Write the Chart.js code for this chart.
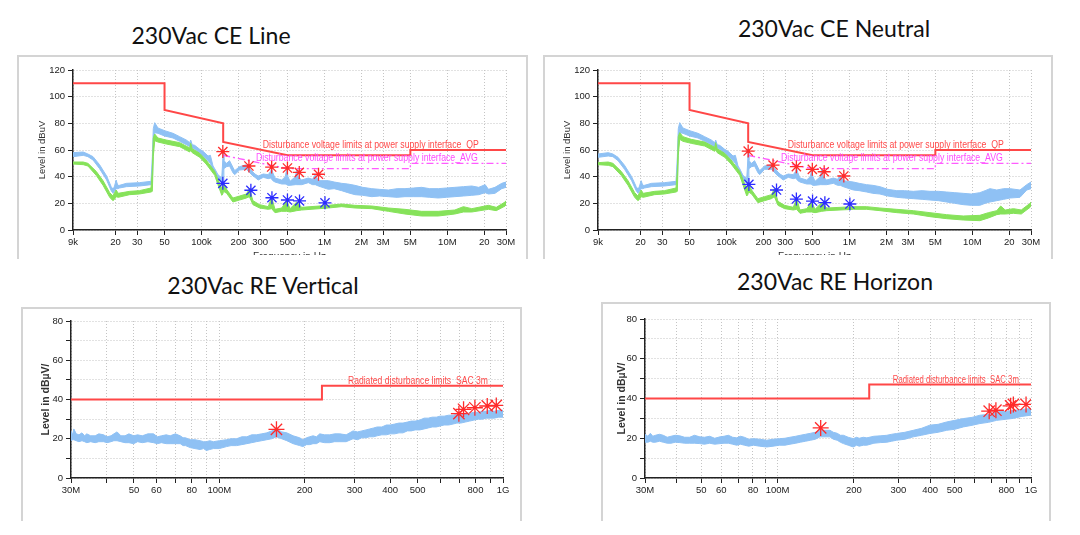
<!DOCTYPE html>
<html><head><meta charset="utf-8">
<script src="https://cdn.jsdelivr.net/npm/chart.js@4.4.1/dist/chart.umd.min.js"></script>
<style>
html,body{margin:0;padding:0;background:#fff;}
body{width:1080px;height:535px;overflow:hidden;position:relative;}
.frame{position:absolute;border:2px solid #d4d4d4;border-bottom:none;box-sizing:border-box;}
.title{position:absolute;font-family:Lato,'Open Sans',sans-serif;color:#111;white-space:nowrap;transform:translate(-50%,-50%);line-height:1;}
canvas{position:absolute;}
</style></head><body>
<div class="frame" style="left:17px;top:55px;width:511px;height:204px"></div>
<div class="frame" style="left:543px;top:55px;width:510px;height:204px"></div>
<div class="frame" style="left:21px;top:307px;width:501px;height:214px"></div>
<div class="frame" style="left:601px;top:302px;width:450px;height:219px"></div>
<div class="title" style="left:211px;top:35px;font-size:23px">230Vac CE Line</div>
<div class="title" style="left:834px;top:28px;font-size:23px">230Vac CE Neutral</div>
<div class="title" style="left:263px;top:285px;font-size:23px">230Vac RE Vertical</div>
<div class="title" style="left:835px;top:281px;font-size:23px">230Vac RE Horizon</div>
<canvas id="c1" width="510" height="200" style="left:17px;top:55px"></canvas>
<canvas id="c2" width="510" height="200" style="left:543px;top:55px"></canvas>
<canvas id="c3" width="499" height="213" style="left:22px;top:307px"></canvas>
<canvas id="c4" width="449" height="218" style="left:601px;top:302px"></canvas>
<script>
// ---------- axis ticks ----------
const ceTickValuesHz = [9e3, 2e4, 3e4, 5e4, 1e5, 2e5, 3e5, 5e5, 1e6, 2e6, 3e6, 5e6, 1e7, 2e7, 3e7];
const ceTickLabels = ['9k', '20', '30', '50', '100k', '200', '300', '500', '1M', '2M', '3M', '5M', '10M', '20', '30M'];
const reTickValuesHz = [3e7, 4e7, 5e7, 6e7, 7e7, 8e7, 9e7, 1e8, 2e8, 3e8, 4e8, 5e8, 6e8, 7e8, 8e8, 9e8, 1e9];
const reTickLabels = ['30M', '', '50', '60', '', '80', '', '100M', '200', '300', '400', '500', '', '', '800', '', '1G'];

// ---------- limit lines ----------
const ceQpLimitFreqKHz = [9, 50, 50, 150, 150, 500, 5000, 5000, 30000];
const ceQpLimitLevel = [110, 110, 90, 80, 66, 56, 56, 60, 60];
const ceAvgLimitFreqKHz = [150, 500, 5000, 5000, 30000];
const ceAvgLimitLevel = [56, 46, 46, 50, 50];
const reLimitFreqMHz = [30, 230, 230, 1000];
const reLimitLevel = [40, 40, 47, 47];

// ---------- CE Line ----------
const lineBlueFreqKHz = [9, 10.9, 11.9, 13.1, 14.8, 16.9, 18.4, 19.1, 19.6, 20.2, 20.8, 21.5, 24.5, 31.2, 38.8, 39.8, 40.5, 41.6, 44.2, 50.1, 58.6, 66.4, 75.2, 80.2, 81.6, 84, 88, 96.7, 103, 113, 118, 124, 128, 136, 146, 148, 150, 152, 160, 169, 180, 186, 204, 232, 262, 272, 289, 318, 349, 365, 372, 380, 396, 449, 480, 493, 505, 525, 580, 595, 610, 653, 740, 800, 842, 891,
  1076, 1200, 1380, 1550, 1770, 2050, 2430, 2800, 3310, 3900, 4520, 5300, 6170, 7200, 8430, 9800, 11500, 13500, 15800, 18000, 20300, 21600, 24400, 27700, 30000];
const lineBlueHigh = [58, 58.5, 57, 55, 49, 40.5, 32.5, 30.5, 33, 37.5, 33.5, 33.5, 35, 35.5, 36.5, 55, 76, 80.5, 76.5, 74.5, 72.5, 70, 67.5, 65.5, 67.5, 64, 63.5, 60.5, 59, 55.5, 56, 48, 46, 41.5, 39, 48, 59, 52, 50, 52, 47, 44.5, 47.5, 49, 43.5, 42, 40.5, 42, 41.5, 44, 46.5, 43, 39, 37.5, 40, 45.5, 40, 36.5, 40, 45.5, 40, 37.5, 39, 38, 41.5, 37,
  37, 36, 35, 34.5, 33.5, 32, 31, 30.5, 30, 31, 31, 31.5, 32, 31, 31, 31.5, 32, 32.5, 33, 32, 34, 30.5, 32, 35, 36];
const lineBlueLow = [55, 56, 55, 52.5, 46, 37.5, 29.5, 27.5, 29, 31, 31, 31.5, 32.5, 33, 34, 36, 60, 73, 72.5, 70.5, 69, 66.5, 64, 62.5, 63, 61.5, 60.5, 57.5, 55.5, 52, 50, 44, 42.5, 38.5, 36, 36, 36, 46, 47.5, 48, 43, 41.5, 45, 45.5, 40.5, 39.5, 37.5, 39.5, 38.5, 39, 38, 37, 36, 34.5, 34.5, 34, 33.5, 33.5, 34, 34, 34, 34, 35.5, 34, 34, 33,
  30.5, 31, 29.5, 28, 26.5, 26, 25, 25.5, 25, 24.5, 25, 25, 25, 24.5, 24, 24.5, 25, 25.5, 26, 26.5, 28, 27, 27.5, 31, 32];
const lineGreenFreqKHz = [9, 10.9, 11.9, 13.9, 15.8, 17.9, 19.0, 19.6, 20.2, 21.0, 26.0, 31.2, 38.8, 39.8, 40.5, 41.6, 44.2, 51.6, 66.4, 80.2, 81.6, 84, 96.7, 109, 128, 136, 146, 149, 151, 160, 180, 204, 232, 245, 262, 297, 349, 372, 396, 449, 493, 525, 595, 653, 1076, 1380, 1770, 2430, 3310, 4520, 6170, 8430, 11500, 13500, 15800, 21600, 25000, 29500, 30000];
const lineGreenHigh = [51, 51, 50, 44, 37, 28, 25.5, 28, 30, 27.5, 29, 29.5, 31.5, 45, 69, 72, 69, 67.5, 65.5, 61.5, 65, 61, 57.5, 52.5, 44, 38, 31, 35, 35, 30.5, 24, 25.5, 27, 31, 22, 19, 17.5, 24.5, 15.5, 16.5, 22, 16, 21, 17, 18.5, 19.5, 18.5, 18, 16.5, 15.5, 14, 14, 15, 17.5, 16, 18.5, 17, 21, 22];
const lineGreenLow = [49.5, 49, 48, 41, 33.5, 24.5, 22, 23, 25, 24.5, 26.5, 27, 28.5, 29, 55, 67, 66, 64.5, 62.5, 58.5, 60, 58, 54.5, 49.5, 41, 34, 26, 27, 29, 27.5, 21, 22.5, 24, 25, 19, 16.5, 15.5, 16, 13, 14, 14, 13.5, 14.5, 15, 16.5, 17.5, 16.5, 16, 14, 12, 10.5, 10.5, 12, 13.5, 13.5, 15.5, 14.5, 18, 19];
const lineQpPeakFreqKHz = [149, 243, 372, 500, 624, 895];
const lineQpPeakLevel = [58.8, 48, 47.2, 46.5, 43.2, 41.8];
const lineAvgPeakFreqKHz = [149, 252, 374, 500, 627, 1010];
const lineAvgPeakLevel = [35, 29.8, 24.2, 22.5, 21.8, 20.4];

// ---------- CE Neutral ----------
const neutralBlueFreqKHz = [9, 10.9, 11.9, 13.1, 14.8, 16.9, 18.4, 19.1, 19.6, 20.2, 20.8, 21.5, 24.5, 31.2, 38.8, 39.8, 40.5, 41.6, 44.2, 50.1, 58.6, 66.4, 75.2, 80.2, 81.6, 84, 88, 96.7, 103, 113, 118, 124, 128, 136, 146, 148, 150, 152, 160, 169, 180, 186, 204, 232, 262, 272, 289, 318, 349, 365, 372, 380, 396, 449, 480, 493, 505, 525, 580, 595, 610, 653, 740, 800, 842, 891,
  1076, 1200, 1380, 1550, 1770, 2050, 2430, 2800, 3310, 3900, 4520, 5300, 6170, 7200, 8430, 9800, 11500, 12700, 13900, 15800, 18000, 20300, 24400, 27700, 30000];
const neutralBlueHigh = [57, 58, 57, 54.5, 48.5, 40, 32.5, 30.5, 33, 37, 33.5, 33.5, 35, 35.5, 36.5, 55, 76, 80.5, 76.5, 74.5, 72.5, 70, 67.5, 65.5, 67.5, 64, 63.5, 60.5, 59, 55.5, 56, 48, 46, 41, 38.5, 48, 59.5, 52, 50, 52, 47, 44.5, 48, 49, 43.5, 42, 40.5, 42, 41.5, 44, 46.5, 43, 39, 37.5, 40, 45, 40, 36.5, 40, 45, 40, 37.5, 39, 38, 41, 37,
  36, 35, 34, 33.5, 32.5, 30.5, 29.5, 29.5, 29, 29.5, 29, 29, 28.5, 28, 27.5, 27, 28, 29.5, 31, 30, 31, 31, 30, 34, 36];
const neutralBlueLow = [54.5, 55.5, 55, 52, 45.5, 37, 29.5, 27.5, 29, 31, 31, 31.5, 32.5, 33, 34, 36, 60, 73, 72.5, 70.5, 69, 66.5, 64, 62.5, 63, 61.5, 60.5, 57.5, 55.5, 52, 50, 44, 42.5, 38, 35, 35, 35, 46, 47.5, 48, 43, 41.5, 45.5, 45.5, 40.5, 39.5, 37.5, 39.5, 38.5, 39, 38, 37, 36, 34.5, 34.5, 34, 33.5, 33.5, 34, 34, 34, 34, 35, 33.5, 33.5, 32.5,
  30, 29.5, 28.5, 27.5, 27, 25.5, 24.5, 24, 23.5, 23, 22.5, 22, 21, 20, 19, 18.5, 18.5, 20, 21, 22, 23, 24, 24.5, 30, 31];
const neutralGreenFreqKHz = [9, 10.9, 11.9, 13.9, 15.8, 17.9, 19.0, 19.6, 20.2, 21.0, 26.0, 31.2, 38.8, 39.8, 40.5, 41.6, 44.2, 51.6, 66.4, 80.2, 81.6, 84, 96.7, 109, 128, 136, 146, 149, 151, 160, 180, 204, 232, 245, 262, 297, 349, 372, 396, 449, 493, 525, 595, 653, 1076, 1380, 1770, 2430, 3310, 4520, 6170, 8430, 11500, 13500, 15800, 17000, 18500, 21600, 25000, 29500, 30000];
const neutralGreenHigh = [50.5, 51, 50, 44, 37, 28, 25.5, 28, 30, 27.5, 29, 29.5, 31.5, 45, 70, 73, 70, 68, 66, 62, 65.5, 61, 57.5, 52.5, 44, 38, 30.5, 34.5, 34.5, 30, 23.5, 25, 26.5, 31, 21.5, 18.5, 17, 23.5, 15, 16, 21, 15.5, 20.5, 16.5, 17.5, 17.5, 16.5, 15.5, 14.5, 13, 11.5, 10.5, 11, 13, 14.5, 18, 15, 16, 15, 20, 21];
const neutralGreenLow = [49, 48.5, 47.5, 41, 33.5, 24.5, 22, 23, 25, 24.5, 26.5, 27, 28.5, 29, 56, 68, 66.5, 65, 63, 59, 60.5, 58, 54.5, 49.5, 41, 34, 25.5, 26.5, 28.5, 27, 20.5, 22, 23.5, 25, 18.5, 16, 15, 15.5, 12.5, 13.5, 13.5, 13, 14, 14.5, 15.5, 15.5, 14.5, 13, 12, 10, 8.5, 7.5, 7, 9, 11.5, 12, 12, 12.5, 12, 17, 18];
const neutralQpPeakFreqKHz = [150, 239, 370, 499, 623, 900];
const neutralQpPeakLevel = [59.2, 48.7, 47.5, 45.5, 43.7, 40.5];
const neutralAvgPeakFreqKHz = [152, 255, 370, 501, 631, 1008];
const neutralAvgPeakLevel = [34.2, 30, 23.2, 21.7, 20.5, 19.5];

// ---------- RE Vertical ----------
const vertFreqMHz = [30, 30.4, 30.7, 31.3, 32, 32.8, 33.5, 34.1, 35.2, 36.5, 37.6, 39.1, 40.2, 41.5, 42.5, 43.6, 45, 46.5, 48, 49.9, 51.5, 53.5, 56, 58.6, 60.5, 62.5, 65, 67.1, 70, 72.8, 74.5, 76, 78.9, 82, 85.6, 88, 90, 92.5, 95.3, 100, 106, 110, 115, 120, 125, 130, 135, 141, 147, 153, 159, 166, 173, 182, 192, 197, 203, 208, 214, 220, 226, 235, 245, 255, 266, 280, 296, 307, 318, 329, 339, 350, 360, 374, 388, 400, 415, 430, 444, 460, 475, 490, 509, 527, 545, 563, 582, 600, 620, 643, 667, 688, 710, 736, 763, 790, 820, 845, 873, 900, 930, 965, 1000];
const vertHigh = [24, 22, 25, 22.5, 22, 23, 21.5, 22.5, 21.5, 21.5, 22.5, 22, 21, 21.5, 22.5, 23.5, 21.5, 21.5, 22.5, 21.5, 22, 21.5, 22.5, 22.5, 21, 21.5, 22, 21.5, 22.5, 21.5, 20.5, 20.5, 19.5, 19.5, 19, 18.5, 18.5, 19, 18.5, 19, 19.5, 20, 20, 21, 21, 22, 22, 22.5, 23, 24, 25, 23.5, 23, 21.5, 20.5, 19.5, 20.5, 21, 21.5, 21, 22.5, 22, 22, 22.5, 22.5, 22, 24, 23.5, 24, 24.5, 25, 25.5, 26, 26, 27, 27, 27.5, 28, 28, 28.5, 29, 29, 29.5, 30.5, 30.5, 31, 31, 31.5, 31.5, 32, 32, 32.5, 32.5, 33, 33, 33.5, 33.5, 34, 34, 34.5, 34, 34.5, 34.5];
const vertLow = [19, 19.5, 19.5, 19, 18.5, 19, 18.5, 18, 18.5, 18, 18.5, 18.5, 18, 18.5, 19, 19, 18.5, 18, 18, 17.5, 18.5, 18, 18.5, 18, 17.5, 18, 17.5, 17.5, 17.5, 17.5, 16.5, 16.5, 15.5, 15, 14.5, 15, 14, 14.5, 15, 15, 16, 16.5, 16.5, 17, 17.5, 18, 18.5, 19, 19.5, 20, 21, 20, 19, 17.5, 16.5, 16, 17, 17, 17.5, 17.5, 18.5, 18, 18, 18.5, 18.5, 18.5, 20, 19.5, 20.5, 20.5, 21, 21, 21.5, 22, 22, 22.5, 22.5, 23, 23, 24, 24, 24.5, 24.5, 25, 25.5, 26, 26, 26.5, 27, 27, 27.5, 28, 28, 28.5, 29, 29.5, 30, 30, 30.5, 30.5, 30.5, 31, 31];
const vertPeakFreqMHz = [159, 699, 726, 796, 880, 947];
const vertPeakLevel = [24.8, 32.8, 35, 35.8, 36.7, 37];

// ---------- RE Horizon ----------
const horFreqMHz = [30, 30.8, 31.5, 32.2, 33, 34.2, 35.4, 36.7, 38, 39.5, 41.2, 43, 45, 47, 49.4, 51.5, 54, 56.5, 59.3, 61.5, 64, 66.5, 69, 71.5, 74, 77, 80.3, 85, 90.6, 96, 102, 107, 112, 118, 123, 129, 135, 141, 147, 154, 161, 166, 172, 177, 182, 190, 199, 205, 210, 218, 225, 240, 254, 270, 282, 295, 318, 343, 370, 399, 430, 465, 500, 541, 585, 629, 680, 732, 790, 852, 920, 1000];
const horHigh = [22, 21, 22.5, 21, 21.5, 22, 21.5, 20.5, 21, 21.5, 21.2, 20.5, 20.5, 21.5, 20.7, 20.5, 21, 20, 20.7, 21, 21.5, 20.5, 20.2, 21, 20.5, 19.5, 19.8, 19.5, 19, 19.5, 19.8, 20, 20.5, 21, 21.5, 22, 22.5, 23, 24, 24, 24, 23, 22.5, 21.5, 21.5, 20.5, 19.8, 20.5, 20, 20.5, 20.2, 21, 21.2, 21.5, 22, 22.4, 23, 24, 25, 26.6, 27, 28.2, 29, 29.9, 30.5, 31.6, 32, 33.3, 33.5, 34, 34.5, 35];
const horLow = [18, 18, 18.5, 18, 18, 18.5, 18, 17.5, 17.5, 18, 17.8, 17.5, 17.5, 17.5, 17.3, 17, 17.5, 17, 17.3, 17.5, 17.5, 17, 16.5, 17, 16.5, 16, 16.5, 16, 15.6, 16, 16.5, 16.5, 17, 17.5, 18, 18.5, 19, 19.5, 20.7, 20.7, 20.7, 19.5, 19, 18, 17.3, 16.5, 15.6, 16.5, 16, 16.5, 16.5, 17.5, 17.8, 18, 18.5, 19, 19.5, 20.7, 21.5, 22.4, 23, 24, 24.5, 25.7, 26.5, 27.4, 28, 29, 29.5, 30, 31, 31.6];
const horPeakFreqMHz = [148, 684, 727, 831, 852, 956];
const horPeakLevel = [25.2, 33.6, 34.1, 36.3, 37, 37];

// ---------- styles ----------
const BLUE = '#8fc1f4', GREEN = '#86e25a', RED = '#ff4747', MAG = '#ff5cff';
const STAR_RED = '#ff2b2b', STAR_BLUE = '#2b2bff';

Chart.defaults.font.family = "'Liberation Sans', Arial, sans-serif";
Chart.defaults.animation = false;

function pts(fs, ys, mult) { return fs.map((f, i) => ({x: f * mult, y: ys[i]})); }

const notesPlugin = {
  id: 'notes',
  afterDatasetsDraw(chart, args, opts) {
    const ctx = chart.ctx, xs = chart.scales.x, ys = chart.scales.y;
    (opts.items || []).forEach(n => {
      ctx.save();
      ctx.font = n.font; ctx.fillStyle = n.color;
      ctx.textAlign = 'left'; ctx.textBaseline = 'middle';
      ctx.fillText(n.text, xs.getPixelForValue(n.x), ys.getPixelForValue(n.y), n.maxWidth);
      ctx.restore();
    });
    if (opts.xTitle) {
      ctx.save();
      ctx.font = '10px "Liberation Sans", Arial, sans-serif'; ctx.fillStyle = '#333';
      ctx.textAlign = 'center'; ctx.textBaseline = 'top';
      ctx.fillText(opts.xTitle, (chart.chartArea.left + chart.chartArea.right) / 2, chart.height - 2.5);
      ctx.restore();
    }
  }
};

function xScale(min, max, vals, labels, fs) {
  return {
    type: 'logarithmic', min: min, max: max,
    afterBuildTicks: s => { s.ticks = vals.map(v => ({value: v})); },
    afterFit: s => { s.height = 25; },
    ticks: {autoSkip: false, maxRotation: 0, minRotation: 0, padding: 2, color: '#222', font: {size: fs},
      callback: v => { const i = vals.findIndex(t => Math.abs(t - v) <= t * 1e-6); return i >= 0 ? labels[i] : ''; }},
    grid: {color: '#c4c4c4', lineWidth: 1, tickLength: 5, tickColor: '#222', tickWidth: 1},
    border: {color: '#222', width: 1.5, dash: [1, 2]}
  };
}
function yScale(max, title, tfont, w) {
  return {
    type: 'linear', min: 0, max: max,
    afterFit: s => { s.width = w; },
    ticks: {stepSize: 10, padding: 3, color: '#222', font: {size: 9.5},
      callback: v => (v % 20 === 0 ? String(v) : '')},
    grid: {color: '#c4c4c4', lineWidth: 1, tickLength: 5, tickColor: '#222', tickWidth: 1},
    border: {color: '#222', width: 1.5, dash: [1, 2]},
    title: {display: true, text: title, color: '#333', font: tfont, padding: 0}
  };
}
function starSets(f, l, mult, col, dark, r) {
  return [
    {data: pts(f, l, mult), showLine: false, pointStyle: 'star', pointRadius: r, pointBorderColor: col, pointBackgroundColor: col, pointBorderWidth: 1.3},
    {data: pts(f, l, mult), showLine: false, pointStyle: 'rect', pointRadius: 1.7, pointBorderWidth: 0, pointBackgroundColor: dark, pointBorderColor: dark}
  ];
}
function line(f, l, mult, col, w, dash) {
  return {data: pts(f, l, mult), borderColor: col, borderWidth: w, borderDash: dash || [], pointRadius: 0, fill: false, tension: 0};
}
function band(f, hi, lo, mult, col) {
  return [
    {data: pts(f, hi, mult), borderColor: col, backgroundColor: col, borderWidth: 1, pointRadius: 0, fill: '+1', tension: 0},
    {data: pts(f, lo, mult), borderColor: col, borderWidth: 1, pointRadius: 0, fill: false, tension: 0}
  ];
}

function ceChart(id, pad, yw, qpF, qpL, avF, avL, gF, gH, gL, bF, bH, bL) {
  const datasets = [].concat(
    starSets(qpF, qpL, 1e3, STAR_RED, '#c00000', 6.5),
    starSets(avF, avL, 1e3, STAR_BLUE, '#0000b0', 6.5),
    [line(ceQpLimitFreqKHz, ceQpLimitLevel, 1e3, RED, 2)],
    [line(ceAvgLimitFreqKHz, ceAvgLimitLevel, 1e3, MAG, 1.4, [7, 3, 2, 3])],
    band(gF, gH, gL, 1e3, GREEN),
    band(bF, bH, bL, 1e3, BLUE)
  );
  return new Chart(document.getElementById(id), {
    type: 'line',
    data: {datasets: datasets},
    plugins: [notesPlugin],
    options: {
      responsive: false, devicePixelRatio: 1, animation: false,
      layout: {padding: pad},
      plugins: {legend: {display: false}, tooltip: {enabled: false},
        notes: {
          xTitle: 'Frequency in Hz',
          items: [
            {text: 'Disturbance voltage limits at power supply interface_QP', x: 3.15e5, y: 63.8, color: '#ff4a4a', font: '10px "Liberation Sans", Arial, sans-serif', maxWidth: 216},
            {text: 'Disturbance voltage limits at power supply interface_AVG', x: 2.77e5, y: 53.9, color: '#ff4aff', font: '10px "Liberation Sans", Arial, sans-serif', maxWidth: 222}
          ]
        }},
      scales: {
        x: xScale(9e3, 3e7, ceTickValuesHz, ceTickLabels, 9.5),
        y: yScale(120, 'Level in dBuV', {size: 9.5}, yw)
      }
    }
  });
}

function reChart(id, pad, yw, pF, pL, bF, bH, bL, noteX, noteW) {
  const datasets = [].concat(
    starSets(pF, pL, 1e6, STAR_RED, '#c00000', 8),
    [line(reLimitFreqMHz, reLimitLevel, 1e6, RED, 2)],
    band(bF, bH, bL, 1e6, BLUE)
  );
  return new Chart(document.getElementById(id), {
    type: 'line',
    data: {datasets: datasets},
    plugins: [notesPlugin],
    options: {
      responsive: false, devicePixelRatio: 1, animation: false,
      layout: {padding: pad},
      plugins: {legend: {display: false}, tooltip: {enabled: false},
        notes: {items: [
          {text: 'Radiated disturbance limits_SAC 3m', x: noteX, y: 49.3, color: '#ff4a4a', font: '10px "Liberation Sans", Arial, sans-serif', maxWidth: noteW}
        ]}},
      scales: {
        x: xScale(3e7, 1e9, reTickValuesHz, reTickLabels, 9.5),
        y: yScale(80, 'Level in dBµV/', {size: 10.5, weight: 'bold'}, yw)
      }
    }
  });
}

ceChart('c1', {left: 20, right: 21, top: 15, bottom: 0}, 36,
  lineQpPeakFreqKHz, lineQpPeakLevel, lineAvgPeakFreqKHz, lineAvgPeakLevel,
  lineGreenFreqKHz, lineGreenHigh, lineGreenLow, lineBlueFreqKHz, lineBlueHigh, lineBlueLow);
ceChart('c2', {left: 19, right: 22, top: 15, bottom: 0}, 36,
  neutralQpPeakFreqKHz, neutralQpPeakLevel, neutralAvgPeakFreqKHz, neutralAvgPeakLevel,
  neutralGreenFreqKHz, neutralGreenHigh, neutralGreenLow, neutralBlueFreqKHz, neutralBlueHigh, neutralBlueLow);
reChart('c3', {left: 18, right: 18, top: 14, bottom: 17}, 31,
  vertPeakFreqMHz, vertPeakLevel, vertFreqMHz, vertHigh, vertLow, 2.84e8, 140);
reChart('c4', {left: 15, right: 19, top: 17, bottom: 17}, 29,
  horPeakFreqMHz, horPeakLevel, horFreqMHz, horHigh, horLow, 2.85e8, 126);
</script>
</body></html>
